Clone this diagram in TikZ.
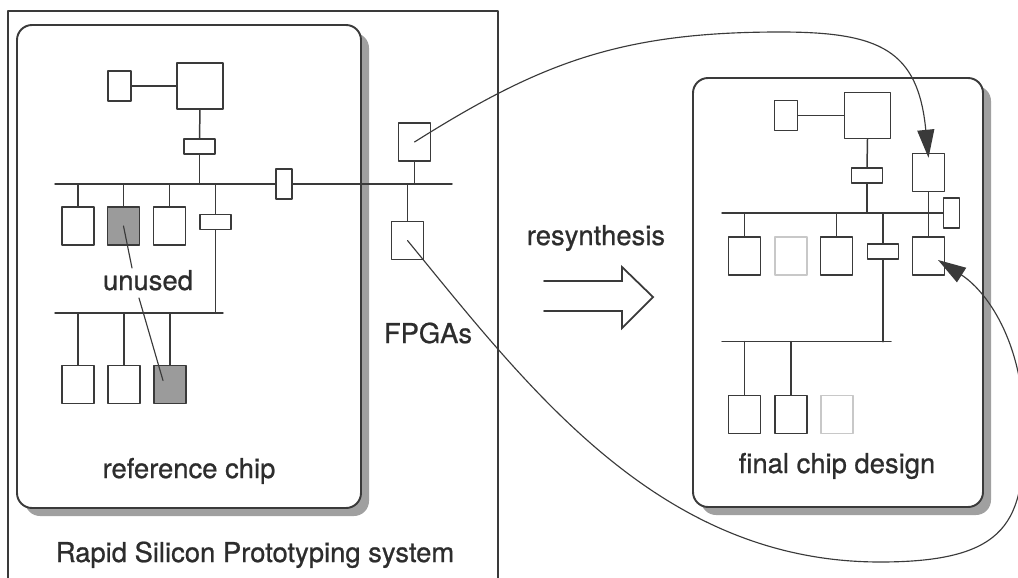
\documentclass[tikz,border=0pt]{standalone}
\usepackage{fontspec}
\setmainfont{TeX Gyre Heros}
\newfontfamily\chipfont[FakeBold=0.8]{TeX Gyre Heros}
\usetikzlibrary{arrows.meta,calc}
\definecolor{rspInk}{RGB}{58,58,58}
\definecolor{rspShade}{RGB}{160,160,160}
\definecolor{rspUnused}{RGB}{155,155,155}
\definecolor{rspFaint}{RGB}{200,200,200}
\definecolor{rspText}{RGB}{45,45,45}
\tikzset{
  cell/.style={draw=rspInk, line width=0.85pt, fill=white, inner sep=0pt, minimum width=0.64cm, minimum height=0.76cm},
  cellbig/.style={cell, minimum width=0.92cm, minimum height=0.92cm},
  cellsmall/.style={cell, minimum width=0.46cm, minimum height=0.6cm},
  bridge/.style={cell, minimum width=0.62cm, minimum height=0.3cm},
  bridgev/.style={cell, minimum width=0.32cm, minimum height=0.6cm},
  unused/.style={cell, fill=rspUnused},
  dropped/.style={cell, draw=rspFaint},
  wire/.style={draw=rspInk, line width=0.85pt},
  link/.style={draw=rspInk, line width=0.65pt},
  chiptext/.style={font=\chipfont\fontsize{15.6pt}{18pt}\selectfont, text=rspText, inner sep=0pt, anchor=base},
}
\begin{document}
\begin{tikzpicture}[x=0.02cm, y=-0.02cm, line cap=round, line join=round]
        \useasboundingbox (0,0) rectangle (1018,578);
        \draw[rspInk, line width=1.4pt] (8,590) -- (8,11) -- (498,11) -- (498,590);
        \fill[rspShade, rounded corners=0.3cm] (25,33) rectangle (369,516);
        \draw[rspInk, line width=1.1pt, fill=white, rounded corners=0.3cm] (17,25) rectangle (361,508);
        \fill[rspShade, rounded corners=0.3cm] (701,86) rectangle (991,515);
        \draw[rspInk, line width=1.1pt, fill=white, rounded corners=0.3cm] (693,78) rectangle (983,507);

        \node[cellsmall] (ls) at (119.5,86) {};
        \node[cellbig] (lb) at (200,86) {};
        \node[bridge] (lh1) at (199.5,146.5) {};
        \node[bridgev] (lv) at (284,184) {};
        \node[bridge] (lh2) at (215.5,222) {};
        \node[cell] (lr1) at (78,226) {};
        \node[unused] (lr2) at (123.5,226) {};
        \node[cell] (lr3) at (169.5,226) {};
        \node[cell] (lq1) at (78,384.5) {};
        \node[cell] (lq2) at (124,384.5) {};
        \node[unused] (lq3) at (170,384.5) {};
        \node[cell] (fA) at (414.5,142) {};
        \node[cell] (fB) at (407.5,240.5) {};
        \coordinate (lbus1) at (55,184);
        \coordinate (lbus1e) at (452,184);
        \coordinate (lbus2) at (55,313);
        \coordinate (lbus2e) at (223,313);
        \draw[wire] (ls.east) -- (lb.west);
        \draw[wire] (lb.south) -- (lh1.north);
        \draw[wire] (lh1.south) -- (lh1.south |- lbus1);
        \draw[wire] (lh2.north |- lbus1) -- (lh2.north);
        \draw[wire] (lh2.south) -- (lh2.south |- lbus2);
        \draw[wire] (lbus1) -- (lv.west) (lv.east) -- (lbus1e);
        \draw[wire] (lbus2) -- (lbus2e);
        \foreach \n in {lr1,lr2,lr3} \draw[wire] (\n.north) -- (\n.north |- lbus1);
        \foreach \n in {lq1,lq2,lq3} \draw[wire] (\n.north) -- (\n.north |- lbus2);
        \draw[wire] (fA.south) -- (fA.south |- lbus1);
        \draw[wire] (fB.north) -- (fB.north |- lbus1);

        \node[cellsmall] (rs) at (786,115.5) {};
        \node[cellbig] (rb) at (867.5,115.5) {};
        \node[bridge] (rh1) at (867,175.5) {};
        \node[bridgev] (rv) at (951.5,213) {};
        \node[cell] (FT) at (928.5,172.5) {};
        \node[cell] (FB) at (928.5,256) {};
        \node[cell] (rr1) at (744.5,256) {};
        \node[dropped] (rr2) at (791,256) {};
        \node[cell] (rr3) at (836.5,256) {};
        \node[bridge] (rh2) at (883,251.5) {};
        \node[cell] (rq1) at (744.5,414.5) {};
        \node[cell] (rq2) at (791,414.5) {};
        \node[dropped] (rq3) at (837,414.5) {};
        \coordinate (rbus1) at (722,213);
        \coordinate (rbus2) at (722,341.7);
        \coordinate (rbus2e) at (891,341.7);
        \draw[wire] (rs.east) -- (rb.west);
        \draw[wire] (rb.south) -- (rh1.north);
        \draw[wire] (rh1.south) -- (rh1.south |- rbus1);
        \draw[wire] (rbus1) -- (rv.west);
        \draw[wire] (FT.south) -- (FB.north);
        \foreach \n in {rr1,rr3} \draw[wire] (\n.north) -- (\n.north |- rbus1);
        \draw[wire] (rh2.north |- rbus1) -- (rh2.north);
        \draw[wire] (rh2.south) -- (rh2.south |- rbus2);
        \draw[wire] (rbus2) -- (rbus2e);
        \foreach \n in {rq1,rq2} \draw[wire] (\n.north) -- (\n.north |- rbus2);

        \node[chiptext] (un) at (148,290) {unused};
        \node[chiptext] (refl) at (189,478) {reference chip};
        \node[chiptext] (sysl) at (255,562) {Rapid Silicon Prototyping system};
        \node[chiptext] (fpl) at (428,343) {FPGAs};
        \node[chiptext] (rsl) at (596,245) {resynthesis};
        \node[chiptext] (fnl) at (837,473) {final chip design};
        \draw[link] ($(un.base)+(-16,-22)$) -- (lr2.center);
        \draw[link] ($(un.base)+(-9,8)$) -- ($(lq3.center)+(-7,-4)$);

        \draw[rspInk, line width=1pt, line join=miter] (544,281) -- (622,281) -- (622,267) -- (653,297) -- (622,328) -- (622,311) -- (544,311);

        \draw[link, -{Triangle[length=0.56cm, width=0.34cm]}] (fA.center)
            .. controls (540,63) and (620,32) .. (780,32)
            .. controls (880,32) and (918,50) .. ([yshift=-0.1cm]FT.north);
        \draw[link, -{Triangle[length=0.56cm, width=0.34cm]}] (fB.center)
            .. controls (530,390) and (660,562) .. (880,562)
            .. controls (1010,562) and (1024,520) .. (1024,430)
            .. controls (1024,340) and (985,290) .. ($(FB.center)+(9.5,4)$);
    \end{tikzpicture}
\end{document}
